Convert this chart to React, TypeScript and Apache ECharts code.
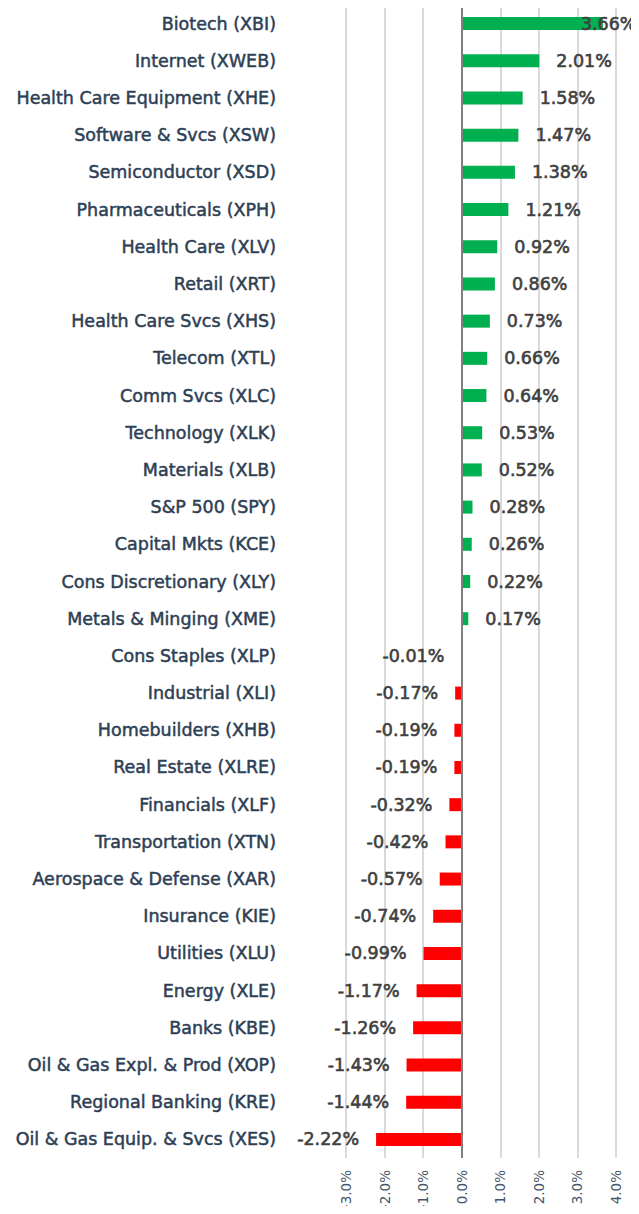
import React, { useEffect, useRef } from "react";
import * as echarts from "echarts";

const categories = [
  "Biotech (XBI)",
  "Internet (XWEB)",
  "Health Care Equipment (XHE)",
  "Software & Svcs (XSW)",
  "Semiconductor (XSD)",
  "Pharmaceuticals (XPH)",
  "Health Care (XLV)",
  "Retail (XRT)",
  "Health Care Svcs (XHS)",
  "Telecom (XTL)",
  "Comm Svcs (XLC)",
  "Technology (XLK)",
  "Materials (XLB)",
  "S&P 500 (SPY)",
  "Capital Mkts (KCE)",
  "Cons Discretionary (XLY)",
  "Metals & Minging (XME)",
  "Cons Staples (XLP)",
  "Industrial (XLI)",
  "Homebuilders (XHB)",
  "Real Estate (XLRE)",
  "Financials (XLF)",
  "Transportation (XTN)",
  "Aerospace & Defense (XAR)",
  "Insurance (KIE)",
  "Utilities (XLU)",
  "Energy (XLE)",
  "Banks (KBE)",
  "Oil & Gas Expl. & Prod (XOP)",
  "Regional Banking (KRE)",
  "Oil & Gas Equip. & Svcs (XES)",
];

const values = [
  3.66, 2.01, 1.58, 1.47, 1.38, 1.21, 0.92, 0.86, 0.73, 0.66, 0.64, 0.53, 0.52,
  0.28, 0.26, 0.22, 0.17, -0.01, -0.17, -0.19, -0.19, -0.32, -0.42, -0.57,
  -0.74, -0.99, -1.17, -1.26, -1.43, -1.44, -2.22,
];

const xTicks = [-3, -2, -1, 0, 1, 2, 3, 4];

export default function App() {
  const ref = useRef<HTMLDivElement>(null);
  useEffect(() => {
    if (!ref.current) return;
    const chart = echarts.init(ref.current, null, { renderer: "svg" });
    const labelFont = {
      fontFamily: "'DejaVu Sans', sans-serif",
      fontWeight: "normal" as const,
      fontSize: 17.5,
      color: "#404040",
      textBorderColor: "#404040",
      textBorderWidth: 0.6,
    };
    const data = values.map((v, i) => {
      const pos = v >= 0;
      const item: any = {
        value: v,
        itemStyle: { color: pos ? "#00b050" : "#ff0000" },
        label: {
          show: true,
          position: pos ? "right" : "left",
          distance: 17,
          ...labelFont,
        },
      };
      if (i === 0) item.label.offset = [-39, 0];
      return item;
    });
    chart.setOption({
      animation: false,
      grid: {
        left: 346,
        right: 23,
        top: 5,
        bottom: 56,
        containLabel: false,
        outerBoundsMode: "none",
      },
      xAxis: {
        type: "value",
        min: xTicks[0],
        max: xTicks[xTicks.length - 1],
        interval: 1,
        axisLine: { show: false },
        axisTick: { show: false },
        splitLine: { show: true, lineStyle: { color: "#d9d9d9", width: 2 } },
        axisLabel: {
          rotate: 90,
          margin: 12,
          fontSize: 13.5,
          fontFamily: "'DejaVu Sans', sans-serif",
          color: "#44546a",
          formatter: (v: number) => v.toFixed(1) + "%",
        },
      },
      yAxis: {
        type: "category",
        data: categories,
        inverse: true,
        axisLine: { show: false },
        axisTick: { show: false },
        axisLabel: {
          margin: 70,
          fontSize: 17.5,
          fontFamily: "'DejaVu Sans', sans-serif",
          fontWeight: "normal",
          color: "#2e3f55",
          textBorderColor: "#2e3f55",
          textBorderWidth: 0.5,
        },
      },
      series: [
        {
          type: "bar",
          data,
          barWidth: 13,
          label: { show: true, formatter: (p: any) => p.value.toFixed(2) + "%" },
          markLine: {
            silent: true,
            symbol: "none",
            label: { show: false },
            lineStyle: { color: "#7f7f7f", width: 2, type: "solid" },
            data: [{ xAxis: 0 }],
          },
        },
      ],
    });
    return () => chart.dispose();
  }, []);
  return <div ref={ref} style={{ width: 639, height: 1214, margin: -8 }} />;
}
